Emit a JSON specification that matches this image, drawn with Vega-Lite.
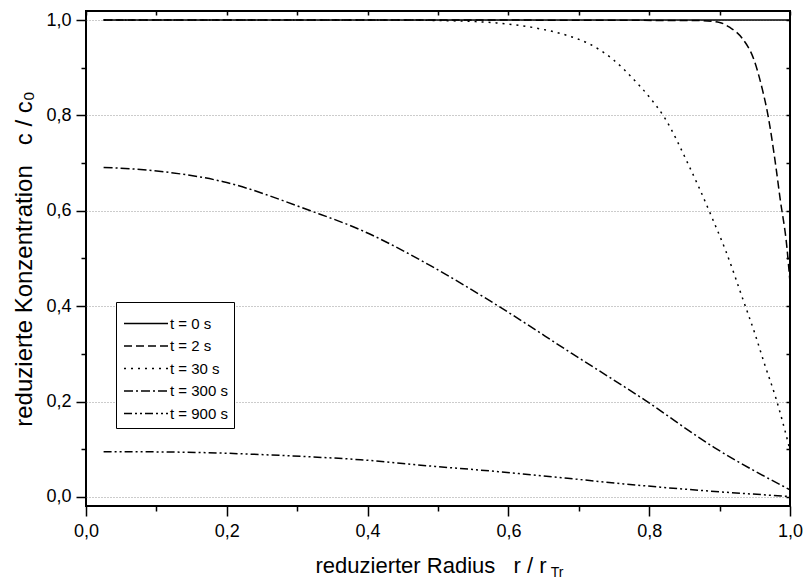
{
  "$schema": "https://vega.github.io/schema/vega-lite/v6.json",
  "width": 704,
  "height": 495,
  "autosize": "none",
  "padding": {"left": 86, "top": 11, "right": 16, "bottom": 79},
  "background": "white",
  "config": {
    "font": "Liberation Sans",
    "view": {"stroke": "black", "strokeWidth": 2},
    "axis": {"domain": false, "tickColor": "black", "tickWidth": 1.5, "labelColor": "black", "titleColor": "black", "titleFontWeight": "normal"}
  },
  "resolve": {"axis": {"x": "independent", "y": "independent"}},
  "datasets": {
    "curves": [
      {"x": 0.025, "c": 1.0, "t": "t = 0 s"},
      {"x": 1.0, "c": 1.0, "t": "t = 0 s"},
      {"x": 0.025, "c": 1.0, "t": "t = 2 s"},
      {"x": 0.5, "c": 1.0, "t": "t = 2 s"},
      {"x": 0.87, "c": 0.999, "t": "t = 2 s"},
      {"x": 0.9, "c": 0.995, "t": "t = 2 s"},
      {"x": 0.914, "c": 0.985, "t": "t = 2 s"},
      {"x": 0.932, "c": 0.962, "t": "t = 2 s"},
      {"x": 0.949, "c": 0.916, "t": "t = 2 s"},
      {"x": 0.961, "c": 0.853, "t": "t = 2 s"},
      {"x": 0.968, "c": 0.806, "t": "t = 2 s"},
      {"x": 0.98, "c": 0.692, "t": "t = 2 s"},
      {"x": 0.986, "c": 0.625, "t": "t = 2 s"},
      {"x": 0.9955, "c": 0.525, "t": "t = 2 s"},
      {"x": 1.0, "c": 0.45, "t": "t = 2 s"},
      {"x": 0.025, "c": 1.0, "t": "t = 30 s"},
      {"x": 0.45, "c": 1.0, "t": "t = 30 s"},
      {"x": 0.5, "c": 0.999, "t": "t = 30 s"},
      {"x": 0.55, "c": 0.997, "t": "t = 30 s"},
      {"x": 0.583, "c": 0.994, "t": "t = 30 s"},
      {"x": 0.64, "c": 0.983, "t": "t = 30 s"},
      {"x": 0.683, "c": 0.968, "t": "t = 30 s"},
      {"x": 0.715, "c": 0.95, "t": "t = 30 s"},
      {"x": 0.748, "c": 0.918, "t": "t = 30 s"},
      {"x": 0.779, "c": 0.874, "t": "t = 30 s"},
      {"x": 0.8, "c": 0.839, "t": "t = 30 s"},
      {"x": 0.822, "c": 0.795, "t": "t = 30 s"},
      {"x": 0.856, "c": 0.696, "t": "t = 30 s"},
      {"x": 0.871, "c": 0.648, "t": "t = 30 s"},
      {"x": 0.89, "c": 0.583, "t": "t = 30 s"},
      {"x": 0.909, "c": 0.515, "t": "t = 30 s"},
      {"x": 0.933, "c": 0.415, "t": "t = 30 s"},
      {"x": 0.95, "c": 0.343, "t": "t = 30 s"},
      {"x": 0.964, "c": 0.278, "t": "t = 30 s"},
      {"x": 0.98, "c": 0.207, "t": "t = 30 s"},
      {"x": 0.992, "c": 0.144, "t": "t = 30 s"},
      {"x": 1.0, "c": 0.098, "t": "t = 30 s"},
      {"x": 0.025, "c": 0.691, "t": "t = 300 s"},
      {"x": 0.097, "c": 0.684, "t": "t = 300 s"},
      {"x": 0.195, "c": 0.661, "t": "t = 300 s"},
      {"x": 0.319, "c": 0.6, "t": "t = 300 s"},
      {"x": 0.39, "c": 0.56, "t": "t = 300 s"},
      {"x": 0.488, "c": 0.486, "t": "t = 300 s"},
      {"x": 0.586, "c": 0.4, "t": "t = 300 s"},
      {"x": 0.69, "c": 0.301, "t": "t = 300 s"},
      {"x": 0.794, "c": 0.203, "t": "t = 300 s"},
      {"x": 0.892, "c": 0.104, "t": "t = 300 s"},
      {"x": 1.0, "c": 0.015, "t": "t = 300 s"},
      {"x": 0.025, "c": 0.095, "t": "t = 900 s"},
      {"x": 0.13, "c": 0.094, "t": "t = 900 s"},
      {"x": 0.292, "c": 0.086, "t": "t = 900 s"},
      {"x": 0.39, "c": 0.078, "t": "t = 900 s"},
      {"x": 0.488, "c": 0.065, "t": "t = 900 s"},
      {"x": 0.586, "c": 0.053, "t": "t = 900 s"},
      {"x": 0.684, "c": 0.039, "t": "t = 900 s"},
      {"x": 0.781, "c": 0.025, "t": "t = 900 s"},
      {"x": 0.879, "c": 0.013, "t": "t = 900 s"},
      {"x": 1.0, "c": 0.001, "t": "t = 900 s"}
    ],
    "sub": [{"s": "Tr"}]
  },
  "layer": [
    {
      "data": {"name": "curves"},
      "mark": {"type": "line", "color": "black", "strokeWidth": 1.5, "interpolate": "monotone", "clip": true},
      "encoding": {
        "x": {
          "field": "x", "type": "quantitative",
          "scale": {"domain": [0, 1], "nice": false, "zero": false},
          "axis": {
            "values": [0, 0.1, 0.2, 0.3, 0.4, 0.5, 0.6, 0.7, 0.8, 0.9, 1.0],
            "labelExpr": "round(datum.value*10)%2==0 ? replace(format(datum.value,'.1f'),'.',',') : ''",
            "tickSize": {"condition": {"test": "round(datum.value*10)%2==0", "value": 10}, "value": 5},
            "grid": false,
            "labelFontSize": 18,
            "labelPadding": 6,
            "labelFlush": false,
            "title": "reduzierter Radius\u00a0\u00a0\u00a0r / r",
            "titleFontSize": 22,
            "titleAlign": "left",
            "titleX": 229,
            "titlePadding": 15
          }
        },
        "y": {
          "field": "c", "type": "quantitative",
          "scale": {"domain": [-0.019, 1.019], "nice": false, "zero": false},
          "axis": {
            "values": [0, 0.1, 0.2, 0.3, 0.4, 0.5, 0.6, 0.7, 0.8, 0.9, 1.0],
            "labelExpr": "round(datum.value*10)%2==0 ? replace(format(datum.value,'.1f'),'.',',') : ''",
            "tickSize": {"condition": {"test": "round(datum.value*10)%2==0", "value": 10}, "value": 5},
            "grid": true,
            "gridColor": "#999999",
            "gridDash": [1, 2],
            "gridWidth": 1,
            "gridOpacity": {"condition": {"test": "round(datum.value*10)%2==0", "value": 1}, "value": 0},
            "labelFontSize": 18,
            "labelPadding": 5,
            "labelFlush": false,
            "title": "reduzierte Konzentration\u00a0\u00a0\u00a0c / c₀",
            "titleFontSize": 24,
            "titlePadding": 9
          }
        },
        "strokeDash": {
          "field": "t", "type": "nominal",
          "scale": {
            "domain": ["t = 0 s", "t = 2 s", "t = 30 s", "t = 300 s", "t = 900 s"],
            "range": [[1, 0], [8, 4], [2, 5], [9, 3, 2, 3], [8, 3, 2, 3, 2, 3]]
          },
          "legend": {
            "orient": "none",
            "legendX": 30,
            "legendY": 291,
            "title": "\u00a0",
            "titleFontSize": 8,
            "titlePadding": 0,
            "symbolType": "M-1,0H7",
            "symbolSize": 121,
            "symbolStrokeWidth": 1.5,
            "symbolStrokeColor": "black",
            "labelFontSize": 15,
            "labelColor": "black",
            "labelOffset": 33,
            "strokeColor": "black",
            "fillColor": "white",
            "padding": 6,
            "rowPadding": 6.5
          }
        }
      }
    },
    {
      "data": {"name": "sub"},
      "mark": {"type": "text", "fontSize": 14, "align": "left", "baseline": "middle", "color": "black", "clip": false},
      "encoding": {
        "x": {
          "datum": 0.66,
          "axis": {"orient": "top", "values": [0, 0.1, 0.2, 0.3, 0.4, 0.5, 0.6, 0.7, 0.8, 0.9, 1.0], "tickSize": -4, "labels": false, "title": null, "grid": false}
        },
        "y": {
          "datum": -0.16,
          "axis": {"orient": "right", "values": [0, 0.1, 0.2, 0.3, 0.4, 0.5, 0.6, 0.7, 0.8, 0.9, 1.0], "tickSize": -4, "labels": false, "title": null, "grid": false}
        },
        "text": {"field": "s"}
      }
    }
  ]
}
